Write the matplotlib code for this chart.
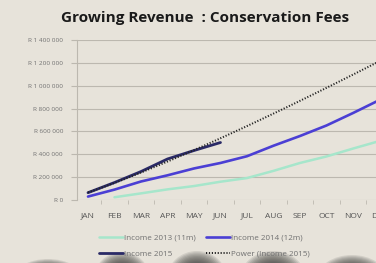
import numpy as np
import matplotlib
matplotlib.use("Agg")
import matplotlib.pyplot as plt
from matplotlib.patches import Ellipse

# Data (Rand)
months = ["JAN", "FEB", "MAR", "APR", "MAY", "JUN", "JUL", "AUG", "SEP", "OCT", "NOV", "DEC"]
income_2013 = [None, 24000, 58000, 93000, 122000, 160000, 192000, 255000, 324000, 381000, 450000, 516000]
income_2014 = [30000, 91000, 162000, 216000, 276000, 324000, 383000, 475000, 560000, 652000, 761000, 875000]
income_2015 = [64000, 153000, 249000, 359000, 433000, 503000]
y_ticks = [0, 200000, 400000, 600000, 800000, 1000000, 1200000, 1400000]

BG = "#e7e3da"
GRID = "#bcb8af"
TXT = "#707070"

plt.rcParams["font.family"] = ["Open Sans", "DejaVu Sans"]

fig = plt.figure(figsize=(3.76, 2.63), dpi=100)
fig.patch.set_facecolor(BG)

# audience heads in the photo, bottom edge (soft dark blobs)
for cx, top, w in [(48, 259, 70), (122, 252, 56), (197, 251, 60),
                   (273, 251, 66), (352, 255, 70)]:
    cy = 263 + 16
    h = 2 * (cy - top)
    for k in np.linspace(1.0, 0.6, 10):
        fig.patches.append(Ellipse((cx / 376, 1 - cy / 263), w * k / 376, h * k / 263,
                                   transform=fig.transFigure, color="#3a3836",
                                   alpha=0.12, lw=0, zorder=0))

ax = fig.add_axes([77 / 376, 1 - 200 / 263, (392.75 - 77) / 376, 160 / 263])
ax.set_facecolor("none")
ax.set_zorder(2)

x = np.arange(1, 13)
x13 = [xi for xi, v in zip(x, income_2013) if v is not None]
v13 = [v for v in income_2013 if v is not None]
x15 = x[:len(income_2015)]

# power trendline of 2015, like Excel's
b, ln_a = np.polyfit(np.log(x15), np.log(income_2015), 1)
xt = np.linspace(1, 12, 100)
trend = np.exp(ln_a) * xt ** b

l13, = ax.plot(x13, v13, color="#a6e6cb", lw=1.8, solid_capstyle="round", zorder=3)
l14, = ax.plot(x, income_2014, color="#4b3fd4", lw=1.9, solid_capstyle="round", zorder=4)
l15, = ax.plot(x15, income_2015, color="#2a2a66", lw=2.0, solid_capstyle="round", zorder=5)
lpw, = ax.plot(xt, trend, color="#222222", lw=1.4, linestyle=(0, (0.6, 0.9)), zorder=6)

ax.set_xlim(1 - 11 / 26.5, 12.5)
ax.set_ylim(0, 1400000)
ax.set_yticks(y_ticks)
ax.set_yticklabels(["R 0" if v == 0 else "R " + f"{v:,}".replace(",", " ") for v in y_ticks],
                   fontsize=4.6, color=TXT)
ax.set_xticks(x)
ax.set_xticklabels(months, fontsize=6, color="#555555")
ax.set_xticks(np.arange(1.5, 12.5, 1), minor=True)
ax.tick_params(axis="x", which="major", length=0, pad=9)
ax.tick_params(axis="x", which="minor", length=3, color=GRID, direction="out")
ax.tick_params(axis="y", length=4, color=GRID, pad=6)
ax.grid(axis="y", color=GRID, lw=0.8)
for s in ["top", "right", "bottom"]:
    ax.spines[s].set_visible(False)
ax.spines["left"].set_color(GRID)

fig.text(205 / 376, 1 - 18 / 263, "Growing Revenue  : Conservation Fees",
         ha="center", va="center", fontsize=11, fontweight="bold", color="#1a1a1a")

# column-wise fill -> rows: 2013, 2014 / 2015, Power
labels = ["Income 2013 (11m)", "Income 2015", "Income 2014 (12m)", "Power (Income 2015)"]
leg = fig.legend([l13, l15, l14, lpw], labels, ncol=2,
                 loc="center", bbox_to_anchor=(204 / 376, 1 - 246 / 263),
                 frameon=False, fontsize=5.8, handlelength=3.0, handletextpad=0.1,
                 columnspacing=1.3, labelspacing=1.0)
for t in leg.get_texts():
    t.set_color(TXT)

fig.savefig("out.png", dpi=100, facecolor=BG)
